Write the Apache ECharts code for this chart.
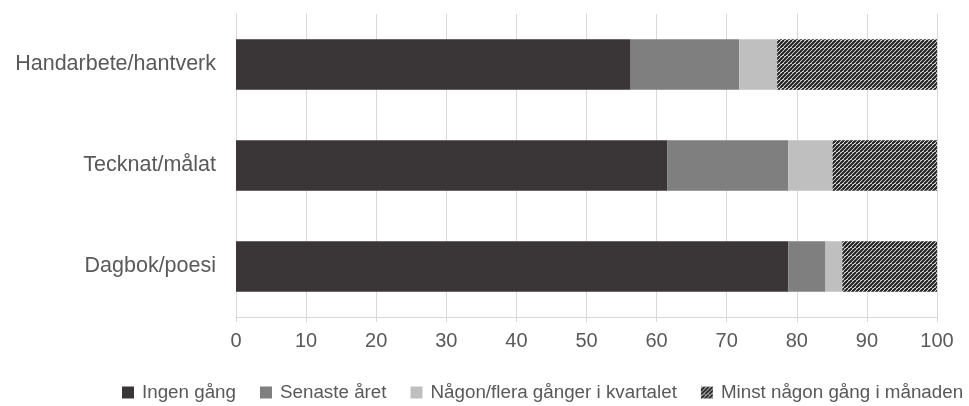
<!DOCTYPE html>
<html>
<head>
<meta charset="utf-8">
<script src="https://cdn.jsdelivr.net/npm/echarts@6/dist/echarts.min.js"></script>
<style>
    html, body { margin: 0; padding: 0; background: #fff; }
    #chart { width: 969px; height: 406px; }
</style>
</head>
<body>
<div id="chart"></div>
<script>
// kategorier uppifrån och ned
var categories = ['Handarbete/hantverk', 'Tecknat/målat', 'Dagbok/poesi'];
var seriesNames = ['Ingen gång', 'Senaste året', 'Någon/flera gånger i kvartalet', 'Minst någon gång i månaden'];
var ingenGang = [56.3, 61.5, 78.8];
var senasteAret = [15.5, 17.3, 5.3];
var kvartalet = [5.4, 6.3, 2.4];
var manaden = [22.8, 14.9, 13.5];
var xTicks = [0, 10, 20, 30, 40, 50, 60, 70, 80, 90, 100];

var font = 'Liberation Sans, Arial, sans-serif';

// randigt mönster för sista serien
function makeHatch(){
    var c = document.createElement('canvas');
    c.width = 8;
    c.height = 8;
    var ctx = c.getContext('2d');
    ctx.fillStyle = '#ffffff';
    ctx.fillRect(0, 0, 8, 8);
    ctx.strokeStyle = '#1e1e1e';
    ctx.lineWidth = 2.1;
    for (var k = -8; k <= 16; k += 4) {
        ctx.beginPath();
        ctx.moveTo(k, 0);
        ctx.lineTo(k - 8, 8);
        ctx.stroke();
    }
    return c;
}

var colors = ['#3a3536', '#7f7f7f', '#bfbfbf', { image: makeHatch(), repeat: 'repeat' }];
var values = [ingenGang, senasteAret, kvartalet, manaden];

var series = seriesNames.map(function(name, i){
    return {
        name: name,
        type: 'bar',
        stack: 'total',
        barWidth: '50%',
        data: values[i],
        itemStyle: { color: colors[i] }
    };
});

var myChart = echarts.init(document.getElementById('chart'));
myChart.setOption({
    animation: false,
    textStyle: { fontFamily: font },
    grid: { left: 236, right: 32, top: 14, bottom: 89 },
    legend: {
        left: 117,
        top: 378,
        itemWidth: 12,
        itemHeight: 12,
        itemGap: 24,
        icon: 'rect',
        textStyle: { fontSize: 18.8, color: '#595959', fontFamily: font, padding: [0, 0, 0, 3] },
        data: seriesNames
    },
    xAxis: {
        type: 'value',
        min: xTicks[0],
        max: xTicks[xTicks.length - 1],
        interval: 10,
        axisLine: { show: true, lineStyle: { color: '#d9d9d9', width: 1 } },
        axisTick: { show: true, length: 5, lineStyle: { color: '#d9d9d9' } },
        axisLabel: { fontSize: 20, color: '#595959', margin: 14, fontFamily: font },
        splitLine: { show: true, lineStyle: { color: '#d9d9d9', width: 1 } }
    },
    yAxis: {
        type: 'category',
        inverse: true,
        data: categories,
        axisLine: { show: true, lineStyle: { color: '#d9d9d9', width: 1 } },
        axisTick: { show: false },
        axisLabel: { fontSize: 21.5, color: '#595959', margin: 20, fontFamily: font }
    },
    series: series
});
</script>
</body>
</html>
